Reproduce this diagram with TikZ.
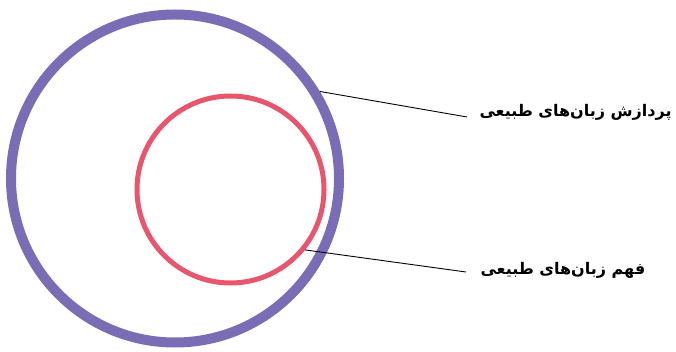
\documentclass[tikz,border=0pt]{standalone}
\usepackage{fontspec}
\newfontfamily\farsifont[Script=Arabic]{DejaVu Sans}
\TeXXeTstate=1
\definecolor{nlpviolet}{HTML}{7B6DB5}
\definecolor{nlupink}{HTML}{E8566E}
\begin{document}
\begin{tikzpicture}[x=1pt,y=-1pt,every node/.style={font=\farsifont\bfseries\fontsize{16}{19}\selectfont}]
\useasboundingbox (0,0) rectangle (676,352);
% outer ring: NLP, inner ring: NLU
\node[circle,draw=nlpviolet,line width=10pt,minimum size=328pt,inner sep=0pt] (outer) at (175,178.5) {};
\node[circle,draw=nlupink,line width=5pt,minimum size=187pt,inner sep=0pt] (inner) at (230.5,189.5) {};
% labels on the right
\node[anchor=west] (nlp) at (476,112) {\beginR پردازش زبان^^^^200cهای طبیعی\endR};
\node[anchor=west] (nlu) at (477,270) {\beginR فهم زبان^^^^200cهای طبیعی\endR};
\coordinate (nlpend) at (467,117);
\coordinate (nluend) at (466,272);
% leader lines
\draw[line width=0.9pt] (outer.31) -- (nlpend);
\draw[line width=0.9pt] (inner.-39) -- (nluend);
\end{tikzpicture}
\end{document}
